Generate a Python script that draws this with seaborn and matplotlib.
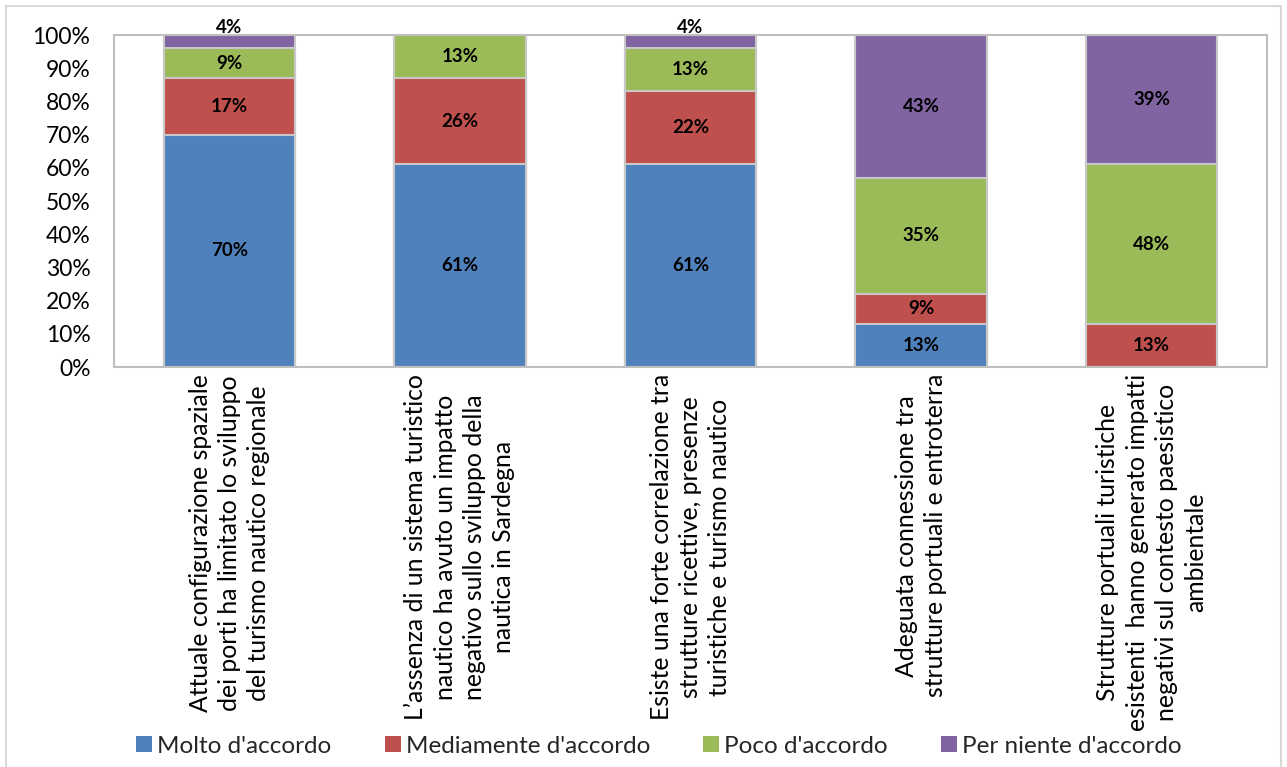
import numpy as np
import pandas as pd
import matplotlib
matplotlib.use("Agg")
import matplotlib.pyplot as plt
import seaborn as sns
from matplotlib.patches import Rectangle, Patch
from matplotlib.ticker import FuncFormatter

categories = [
    "Attuale configurazione spaziale\ndei porti ha limitato lo sviluppo\ndel turismo nautico regionale",
    "L\u2019assenza di un sistema turistico\nnautico ha avuto un impatto\nnegativo sullo sviluppo della\nnautica in Sardegna",
    "Esiste una forte correlazione tra\nstrutture ricettive, presenze\nturistiche e turismo nautico",
    "Adeguata connessione tra\nstrutture portuali e entroterra",
    "Strutture portuali turistiche\nesistenti  hanno generato impatti\nnegativi sul contesto paesistico\nambientale",
]
series = ["Molto d'accordo", "Mediamente d'accordo", "Poco d'accordo", "Per niente d'accordo"]
molto = [70, 61, 61, 13, 0]
mediamente = [17, 26, 22, 9, 13]
poco = [9, 13, 13, 35, 48]
per_niente = [4, 0, 4, 43, 39]
colors = ["#4F81BD", "#C0504D", "#9BBB59", "#8064A2"]
yticks = [0, 10, 20, 30, 40, 50, 60, 70, 80, 90, 100]

sns.set_theme(style="white")
plt.rcParams['font.family'] = ['Lato', 'DejaVu Sans']

fig = plt.figure(figsize=(12.87, 7.67), dpi=100)
ax = fig.add_axes([114 / 1287, 1 - 367 / 767, (1267 - 114) / 1287, (367 - 35) / 767])

vals = np.array([molto, mediamente, poco, per_niente])
cum = np.cumsum(vals, axis=0)
keys = [f"c{j}" for j in range(len(categories))]
for i in reversed(range(len(series))):
    df = pd.DataFrame({"cat": keys, "top": cum[i]})
    sns.barplot(data=df, x="cat", y="top", color=colors[i], width=0.57,
                edgecolor="#C8C8C8", linewidth=1.5, saturation=1, ax=ax,
                order=keys)

for j in range(len(categories)):
    for i in range(len(series)):
        v = vals[i, j]
        if v <= 0:
            continue
        if v < 5:
            y = 100 + 2.2
        else:
            y = cum[i, j] - v / 2
        ax.text(j, y, f"{v}%", ha="center", va="center", fontsize=13.5,
                fontweight="bold", color="black", clip_on=False)

ax.set_ylim(0, 100)
ax.set_xlim(-0.5, len(categories) - 0.5)
ax.set_yticks(yticks)
ax.yaxis.set_major_formatter(FuncFormatter(lambda v, p: f"{int(v)}%"))
ax.tick_params(axis="y", length=0, pad=17, labelsize=16.5, labelcolor="black")
ax.tick_params(axis="x", length=0, pad=5)
ax.set_xticks(range(len(categories)))
ax.set_xticklabels(categories, rotation=90, ha="center", va="top",
                   multialignment="center", fontsize=17.8, linespacing=1.33,
                   color="black")
ax.set_xlabel("")
ax.set_ylabel("")
for s in ax.spines.values():
    s.set_visible(True)
    s.set_color("#BFBFBF")
    s.set_linewidth(1.5)

handles = [Patch(facecolor=c, edgecolor="none") for c in colors]
fig.legend(handles, series, loc="center", bbox_to_anchor=(0.512, 0.027), ncol=4,
           frameon=False, handlelength=0.65, handleheight=0.65, handletextpad=0.2,
           columnspacing=2.2, fontsize=17.5)

fig.patches.append(Rectangle((6 / 1287, -0.05), (1281 - 6) / 1287, 1.05 - 6 / 767,
                             transform=fig.transFigure, fill=False,
                             edgecolor="#D9D9D9", linewidth=1.5))

fig.savefig("out.png", dpi=100)
